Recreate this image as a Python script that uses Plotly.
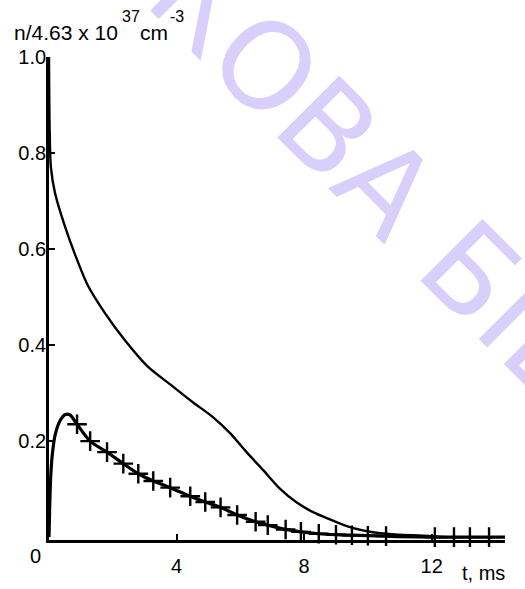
import plotly.graph_objects as go

# Upper curve (total density)
t_upper = [0, 0.02, 0.06, 0.19, 0.50, 0.82, 1.22, 1.76, 2.38, 3.10, 3.86, 4.51, 5.14, 5.67,
           6.21, 6.71, 7.24, 7.77, 8.28, 8.81, 9.34, 9.84, 10.38, 11.0, 12.0, 12.5]
n_upper = [1.0, 0.85, 0.77, 0.716, 0.647, 0.588, 0.524, 0.466, 0.410, 0.355, 0.315, 0.281,
           0.250, 0.217, 0.176, 0.140, 0.101, 0.072, 0.052, 0.037, 0.023, 0.014, 0.008,
           0.005, 0.002, 0.0]

# Lower curve
t_lower = [0, 0.02, 0.05, 0.1, 0.2, 0.35, 0.5, 0.65, 0.88, 1.29, 1.82, 2.33, 2.8, 3.27, 3.8,
           4.43, 4.9, 5.38, 5.9, 6.48, 6.86, 7.42, 7.9, 8.46, 9.0, 9.5, 10.0, 10.57, 11.0,
           12.0, 13.0, 14.3]
n_lower = [0, 0.06, 0.12, 0.17, 0.215, 0.243, 0.255, 0.255, 0.235, 0.20, 0.177, 0.153, 0.132,
           0.117, 0.103, 0.085, 0.073, 0.062, 0.046, 0.032, 0.025, 0.016, 0.011, 0.007, 0.005,
           0.004, 0.003, 0.002, 0.001, 0, 0, 0]

# Cross markers (comparison points)
t_cross = [0.88, 1.29, 1.82, 2.33, 2.8, 3.27, 3.8, 4.43, 4.9, 5.38, 5.9, 6.48, 6.86, 7.42,
           7.9, 8.46, 9.0, 9.5, 10.0, 10.57, 12.1, 12.7, 13.2, 13.8]
n_cross = [0.235, 0.20, 0.177, 0.153, 0.132, 0.117, 0.103, 0.085, 0.073, 0.062, 0.046, 0.032,
           0.025, 0.016, 0.011, 0.007, 0.005, 0.004, 0.003, 0.002, 0, 0, 0, 0]

x_ticks = [4, 8, 12]
x_tick_labels = ["4", "8", "12"]
y_ticks = [0.2, 0.4, 0.6, 0.8, 1.0]
y_tick_labels = ["0.2", "0.4", "0.6", "0.8", "1.0"]

FONT = "Liberation Sans, Arial, sans-serif"


def px_x(p):
    return (p - 49) / 456


def px_y(p):
    return (540 - p) / 483


fig = go.Figure()
fig.add_trace(go.Scatter(x=t_upper, y=n_upper, mode="lines",
                         line=dict(color="black", width=2.4, shape="spline", smoothing=0.8),
                         showlegend=False, hoverinfo="skip"))
fig.add_trace(go.Scatter(x=t_lower, y=n_lower, mode="lines",
                         line=dict(color="black", width=3.2, shape="spline", smoothing=0.8),
                         showlegend=False, hoverinfo="skip"))
fig.add_trace(go.Scatter(x=t_cross, y=n_cross, mode="markers",
                         marker=dict(symbol="cross-thin", size=14,
                                     line=dict(color="black", width=2.4)),
                         cliponaxis=False, showlegend=False, hoverinfo="skip"))

title_parts = [
    ("n/4.63 x 10", 12, 33, 21),
    ("37", 120, 17, 16),
    ("cm", 138, 33, 21),
    ("-3", 168, 17, 16),
]

annotations = [
    dict(text="НАУКОВА БІБЛІОТЕКА", xref="paper", yref="paper",
         x=0.945, y=0.535, xanchor="center", yanchor="middle",
         textangle=45, showarrow=False,
         font=dict(family="DejaVu Sans, sans-serif", size=120, color="#d8cffa")),
]
for txt, px, py, sz in title_parts:
    annotations.append(dict(text=txt, xref="paper", yref="paper", x=px_x(px), y=px_y(py),
                            xanchor="left", yanchor="middle", showarrow=False,
                            font=dict(family=FONT, size=sz, color="black")))
annotations.append(dict(text="0", xref="paper", yref="paper", x=px_x(43), y=px_y(556),
                        xanchor="right", yanchor="middle", showarrow=False,
                        font=dict(family=FONT, size=20, color="black")))
annotations.append(dict(text="t, ms", xref="paper", yref="paper", x=px_x(460), y=px_y(573),
                        xanchor="left", yanchor="middle", showarrow=False,
                        font=dict(family=FONT, size=20, color="black")))

fig.update_layout(
    width=525, height=589,
    margin=dict(l=49, r=20, t=57, b=46),
    paper_bgcolor="white", plot_bgcolor="white",
    font=dict(family=FONT, size=20, color="black"),
    xaxis=dict(range=[0, 14.3], showgrid=False, zeroline=False,
               showline=True, linecolor="black", linewidth=2.5,
               ticks="inside", ticklen=6, tickwidth=2, tickcolor="black",
               tickvals=x_ticks, ticktext=x_tick_labels,
               ticklabelstandoff=6,
               tickfont=dict(family=FONT, size=20, color="black")),
    yaxis=dict(range=[-0.006, 1.0], showgrid=False, zeroline=False,
               showline=True, linecolor="black", linewidth=2.7,
               ticks="inside", ticklen=6, tickwidth=2, tickcolor="black",
               tickvals=y_ticks, ticktext=y_tick_labels,
               ticklabelstandoff=-4,
               tickfont=dict(family=FONT, size=20, color="black")),
    annotations=annotations,
)

fig.write_html("out.html")
